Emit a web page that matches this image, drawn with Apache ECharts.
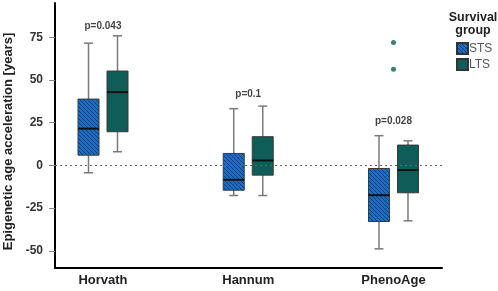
<!DOCTYPE html>
<html>
<head>
<meta charset="utf-8">
<script src="https://cdn.jsdelivr.net/npm/echarts@6/dist/echarts.min.js"></script>
<style>
	html, body {
		margin: 0;
		padding: 0;
		background: #fff;
	}

	#main {
		width: 498px;
		height: 291px;
	}
</style>
</head>
<body>
<div id="main"></div>
<script>
	// 类别
	var clocks = ['Horvath', 'Hannum', 'PhenoAge'];
	// 箱线数据 [min, Q1, median, Q3, max]
	var stsBox = [
		[-4.3, 6, 21.5, 38.8, 71.5],
		[-17.6, -14.5, -8.4, 7, 33.2],
		[-48.8, -32.8, -17.4, -1.8, 17.4]
	];
	var ltsBox = [
		[8, 19.7, 42.9, 55.2, 75.8],
		[-17.6, -5.7, 2.9, 16.8, 34.7],
		[-32.4, -16, -2.7, 11.9, 14.4]
	];
	// 离群点 [类别序号, 值]
	var ltsOutliers = [[2, 71.9], [2, 56.2]];
	// p值
	var pTexts = ['p=0.043', 'p=0.1', 'p=0.028'];
	var pHeights = [81.6, 41.6, 26];
	// y轴刻度
	var yTicks = [-50, -25, 0, 25, 50, 75];

	var font = '"Liberation Sans", Arial, sans-serif';
	var blue = '#1b6fc2';
	var teal = '#0e5d58';

	// 斜线填充
	var cv = document.createElement('canvas');
	cv.width = 4;
	cv.height = 4;
	var ctx = cv.getContext('2d');
	ctx.fillStyle = blue;
	ctx.fillRect(0, 0, 4, 4);
	ctx.strokeStyle = '#0b3a78';
	ctx.lineWidth = 1;
	ctx.beginPath();
	ctx.moveTo(-1, -1); ctx.lineTo(5, 5);
	ctx.moveTo(-1, 3); ctx.lineTo(1, 5);
	ctx.moveTo(3, -1); ctx.lineTo(5, 1);
	ctx.stroke();
	var hatch = { image: cv, repeat: 'repeat' };

	function toItems(box) {
		return box.map(function (b, i) {
			return [i + 1].concat(b);
		});
	}

	function boxRenderer(offset) {
		return function (params, api) {
			var x = api.value(0);
			var p0 = api.coord([x, api.value(1)]);
			var p1 = api.coord([x, api.value(2)]);
			var p2 = api.coord([x, api.value(3)]);
			var p3 = api.coord([x, api.value(4)]);
			var p4 = api.coord([x, api.value(5)]);
			var cx = p0[0] + offset;
			var w = 21, cap = 4.5;
			var lineStyle = { stroke: '#7a7a7a', lineWidth: 1.5 };
			return {
				type: 'group',
				children: [
					{ type: 'line', shape: { x1: cx, y1: p0[1], x2: cx, y2: p1[1] }, style: lineStyle },
					{ type: 'line', shape: { x1: cx, y1: p3[1], x2: cx, y2: p4[1] }, style: lineStyle },
					{ type: 'line', shape: { x1: cx - cap, y1: p0[1], x2: cx + cap, y2: p0[1] }, style: lineStyle },
					{ type: 'line', shape: { x1: cx - cap, y1: p4[1], x2: cx + cap, y2: p4[1] }, style: lineStyle },
					{
						type: 'rect',
						shape: { x: cx - w / 2, y: p3[1], width: w, height: p1[1] - p3[1] },
						style: { fill: api.visual('color'), stroke: '#3a3a3a', lineWidth: 1 }
					},
					{ type: 'line', shape: { x1: cx - w / 2, y1: p2[1], x2: cx + w / 2, y2: p2[1] }, style: { stroke: '#111', lineWidth: 2 } }
				]
			};
		};
	}

	var chart = echarts.init(document.getElementById('main'));
	var option = {
		animation: false,
		backgroundColor: '#fff',
		title: {
			text: 'Survival\ngroup',
			left: 468,
			top: 6,
			textAlign: 'center',
			textStyle: { fontFamily: font, fontSize: 12.5, fontWeight: 'bold', color: '#222', lineHeight: 13 }
		},
		legend: {
			data: ['STS', 'LTS'],
			orient: 'vertical',
			left: 451,
			top: 37,
			icon: 'rect',
			itemWidth: 11,
			itemHeight: 11,
			itemGap: 3,
			textStyle: { fontFamily: font, fontSize: 12, color: '#555', padding: [0, 0, 0, -4] }
		},
		grid: { left: 55, right: 56, top: 3, bottom: 23, outerBoundsMode: 'none', containLabel: false },
		xAxis: {
			type: 'value',
			min: 0.6695,
			max: 3.334,
			splitLine: { show: false },
			axisLine: { onZero: false, lineStyle: { color: '#000', width: 2 } },
			axisTick: { show: false },
			axisLabel: {
				customValues: [1, 2, 3],
				formatter: function (v) { return clocks[Math.round(v) - 1]; },
				fontFamily: font, fontSize: 13, fontWeight: 'bold', color: '#222', margin: 6
			}
		},
		yAxis: {
			type: 'value',
			min: -60,
			max: 95,
			name: 'Epigenetic age acceleration [years]',
			nameLocation: 'middle',
			nameGap: 38,
			nameTextStyle: { fontFamily: font, fontSize: 13, fontWeight: 'bold', color: '#222', padding: [0, 12, 0, 0] },
			splitLine: { show: false },
			axisLine: { show: true, lineStyle: { color: '#000', width: 2 } },
			axisTick: { show: true, length: 6, customValues: yTicks, lineStyle: { color: '#888' } },
			axisLabel: { customValues: yTicks, fontFamily: font, fontSize: 12, fontWeight: 'bold', color: '#333', margin: 12 }
		},
		series: [
			{
				name: 'STS',
				type: 'custom',
				renderItem: boxRenderer(-14.5),
				itemStyle: { color: hatch, borderColor: '#333', borderWidth: 1 },
				encode: { x: 0, y: [1, 2, 3, 4, 5] },
				data: toItems(stsBox),
				markLine: {
					silent: true,
					symbol: 'none',
					label: { show: false },
					lineStyle: { color: '#666', type: [2, 3], width: 1.2 },
					data: [{ yAxis: 0 }]
				},
				z: 3
			},
			{
				name: 'LTS',
				type: 'custom',
				renderItem: boxRenderer(14.5),
				itemStyle: { color: teal, borderColor: '#333', borderWidth: 1 },
				encode: { x: 0, y: [1, 2, 3, 4, 5] },
				data: toItems(ltsBox),
				z: 3
			},
			{
				name: 'LTS',
				type: 'scatter',
				symbolSize: 5,
				itemStyle: { color: teal },
				data: ltsOutliers.map(function (o) { return [o[0] + 1, o[1]]; }),
				z: 4
			},
			{
				name: 'p',
				type: 'scatter',
				symbolSize: 0,
				silent: true,
				label: {
					show: true,
					position: 'inside',
					formatter: function (p) { return p.value[2]; },
					fontFamily: font, fontSize: 10, fontWeight: 'bold', color: '#111'
				},
				data: pTexts.map(function (t, i) { return [i + 1, pHeights[i], t]; })
			}
		]
	};
	chart.setOption(option);
</script>
</body>
</html>
